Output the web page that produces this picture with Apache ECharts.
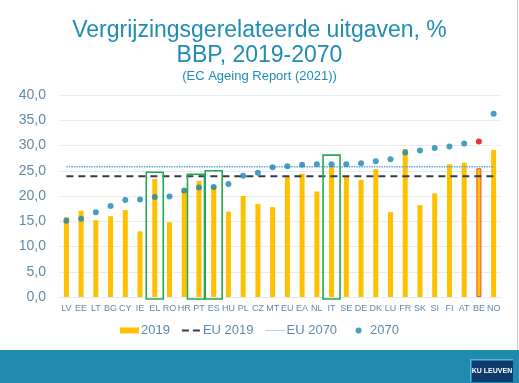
<!DOCTYPE html>
<html>
<head>
<meta charset="utf-8">
<script src="https://cdn.jsdelivr.net/npm/echarts@6/dist/echarts.min.js"></script>
<style>
html,body{margin:0;padding:0;background:#fff;}
#c{width:519px;height:383px;}
</style>
</head>
<body>
<div id="c"></div>
<script>
const categories = ['LV','EE','LT','BG','CY','IE','EL','RO','HR','PT','ES','HU','PL','CZ','MT','EU','EA','NL','IT','SE','DE','DK','LU','FR','SK','SI','FI','AT','BE','NO'];
const values2019 = [15.8,17.1,15.2,16.0,17.2,13.0,23.4,14.8,21.4,23.0,22.0,16.9,20.0,18.4,17.8,23.8,24.4,20.9,25.8,23.9,23.2,25.3,16.8,29.3,18.2,20.5,26.3,26.6,25.5,29.1];
const values2070 = [15.1,15.5,16.8,18.0,19.2,19.3,19.8,19.9,21.1,21.7,21.8,22.4,24.0,24.6,25.7,25.9,26.2,26.3,26.3,26.3,26.5,26.9,27.3,28.6,29.0,29.5,29.8,30.4,30.8,36.3];
const eu2019 = 23.9;
const eu2070 = 25.8;
const yTicks = [0,5,10,15,20,25,30,35,40];
const highlightCats = ['EL','PT','ES','IT'];
const highlightTops = [24.7,24.3,25.0,28.1];
const markedCat = 'BE';

const FONT = '"Liberation Sans", Arial, sans-serif';
const TXT = '#5f8aae';
const chart = echarts.init(document.getElementById('c'));

const bars = values2019.map((v, i) => categories[i] === markedCat
  ? {value: v, itemStyle: {color: '#FFC000', borderColor: '#f0502a', borderWidth: 1}}
  : v);
const dots = values2070.map((v, i) => categories[i] === markedCat
  ? {value: v, itemStyle: {color: '#e00000'}}
  : v);

// legend icon paths (19 x 6 box, degenerate corner moves fix the bounding box)
const BOX = 'M0,0 L0,0 M19,6 L19,6 ';
const dashIcon = 'path://' + BOX + 'M0,2 L7,2 L7,4 L0,4 Z M11,2 L18,2 L18,4 L11,4 Z';
let dotted = BOX;
for (let x = 0; x < 19; x += 2) dotted += 'M' + x + ',2.5 L' + (x + 1) + ',2.5 L' + (x + 1) + ',3.5 L' + x + ',3.5 Z ';
const dotIcon = 'path://' + dotted;
const circIcon = 'path://' + BOX + 'M6.5,3 A3,3 0 1 1 12.5,3 A3,3 0 1 1 6.5,3 Z';

chart.setOption({
  animation: false,
  textStyle: {fontFamily: FONT},
  title: {
    text: 'Vergrijzingsgerelateerde uitgaven, %\nBBP, 2019-2070',
    subtext: '(EC Ageing Report (2021))',
    left: 'center',
    top: 13,
    itemGap: 1,
    textStyle: {fontFamily: FONT, fontSize: 23, fontWeight: 'normal', color: '#1f8cb6', lineHeight: 25},
    subtextStyle: {fontFamily: FONT, fontSize: 13, color: '#1f8cb6', lineHeight: 15}
  },
  legend: {
    left: 'center',
    top: 319,
    itemWidth: 19,
    itemHeight: 6,
    itemGap: 12,
    textStyle: {fontFamily: FONT, fontSize: 13, color: TXT, padding: [0, 0, 0, -3]},
    data: [
      {name: '2019', icon: 'rect'},
      {name: 'EU 2019', icon: dashIcon},
      {name: 'EU 2070', icon: dotIcon},
      {name: '2070', icon: circIcon}
    ]
  },
  grid: {left: 59, right: 18, top: 95, bottom: 86, containLabel: false},
  xAxis: {
    type: 'category',
    data: categories,
    axisLine: {show: true, lineStyle: {color: '#e3e9ee'}},
    axisTick: {show: false},
    axisLabel: {interval: 0, fontSize: 9, color: TXT, margin: 7, fontFamily: FONT}
  },
  yAxis: {
    type: 'value',
    min: yTicks[0],
    max: yTicks[yTicks.length - 1],
    interval: yTicks[1] - yTicks[0],
    axisLine: {show: false},
    axisTick: {show: false},
    splitLine: {lineStyle: {color: '#e6ecf1', width: 1}},
    axisLabel: {fontSize: 14, color: TXT, margin: 13, fontFamily: FONT,
      formatter: v => v.toFixed(1).replace('.', ',')}
  },
  series: [
    {name: '2019', type: 'bar', data: bars, barWidth: 5, itemStyle: {color: '#FFC000'}, z: 2},
    {name: 'EU 2019', type: 'line', data: categories.map(() => eu2019), symbol: 'none',
      lineStyle: {color: '#2c3e50', width: 2, type: [7, 5]}, itemStyle: {color: '#2c3e50'}, z: 3},
    {name: 'EU 2070', type: 'line', data: categories.map(() => eu2070), symbol: 'none',
      lineStyle: {color: '#5aaae6', width: 1.5, type: [1.5, 1]}, itemStyle: {color: '#5aaae6'}, z: 3},
    {name: '2070', type: 'scatter', data: dots, symbolSize: 6, itemStyle: {color: '#1a86b0'}, z: 4}
  ]
});

function drawGraphics() {
  const els = [];
  const y0 = chart.convertToPixel({yAxisIndex: 0}, 0);
  const shifts = {PT: -3};
  highlightCats.forEach((c, i) => {
    const cx = chart.convertToPixel({xAxisIndex: 0}, c) + (shifts[c] || 0);
    const yt = chart.convertToPixel({yAxisIndex: 0}, highlightTops[i]);
    els.push({type: 'rect', z: 100,
      shape: {x: cx - 8.5, y: yt, width: 17, height: y0 + 2 - yt},
      style: {fill: 'none', stroke: '#25a84f', lineWidth: 1.6}});
  });
  els.push({type: 'line', z: 100, shape: {x1: 517.5, y1: 0, x2: 517.5, y2: 350}, style: {stroke: '#c9c9c9', lineWidth: 1}});
  els.push({type: 'rect', z: 100, shape: {x: 0, y: 350, width: 519, height: 33}, style: {fill: '#1f8aae'}});
  els.push({type: 'rect', z: 101, shape: {x: 470, y: 359, width: 43, height: 23}, style: {fill: '#5ab6e6'}});
  els.push({type: 'rect', z: 102, shape: {x: 471.5, y: 360.5, width: 41.5, height: 21.5}, style: {fill: '#0f3a6c'}});
  els.push({type: 'text', z: 103, x: 492, y: 371.5,
    style: {text: 'KU LEUVEN', fill: '#ffffff', font: 'bold 7px "Liberation Sans Narrow", "Liberation Sans", Arial', textAlign: 'center', textVerticalAlign: 'middle'}});
  chart.setOption({graphic: {elements: els}});
}
drawGraphics();
</script>
</body>
</html>
